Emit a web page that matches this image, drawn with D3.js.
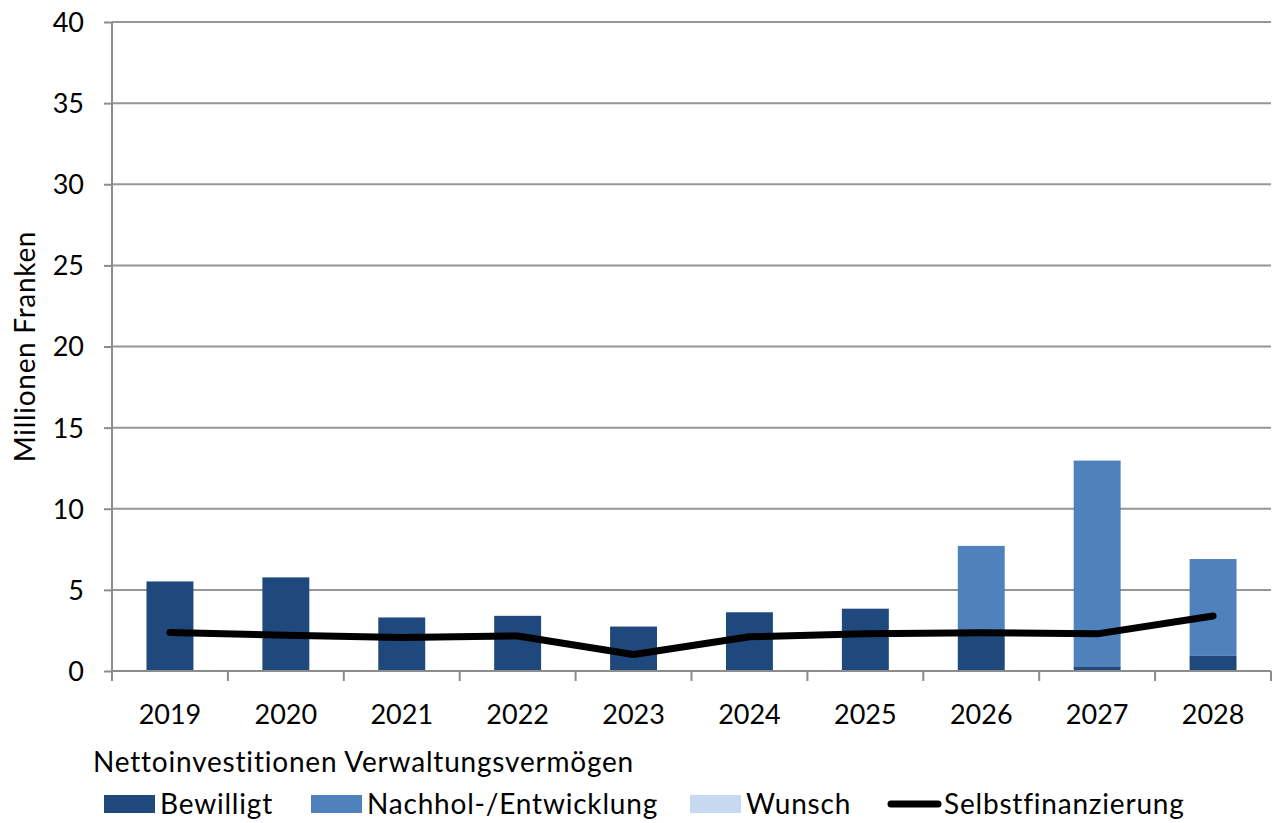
<!DOCTYPE html>
<html>
<head>
<meta charset="utf-8">
<script src="https://cdn.jsdelivr.net/npm/d3@7"></script>
<style>
  body { margin: 0; background: #fff; }
  text { font-family: Lato, "Open Sans", sans-serif; fill: #000; }
</style>
</head>
<body>
<div id="chart"></div>
<script>
// data
const years = ["2019", "2020", "2021", "2022", "2023", "2024", "2025", "2026", "2027", "2028"];
const bewilligt = [5.52, 5.77, 3.30, 3.40, 2.74, 3.62, 3.84, 2.30, 0.29, 0.93];
const nachhol = [0, 0, 0, 0, 0, 0, 0, 5.41, 12.68, 5.97];
const wunsch = [0, 0, 0, 0, 0, 0, 0, 0, 0, 0];
const selbstfinanzierung = [2.37, 2.20, 2.07, 2.16, 1.02, 2.11, 2.29, 2.36, 2.29, 3.39];
const yTicks = [0, 5, 10, 15, 20, 25, 30, 35, 40];

const seriesNames = ["Bewilligt", "Nachhol-/Entwicklung", "Wunsch"];
const colors = ["#1f497d", "#4f81bd", "#c6d9f1"];

const width = 1280, height = 823;
const margin = { top: 22, right: 9, bottom: 152, left: 112 };
const innerW = width - margin.left - margin.right,
  innerH = height - margin.top - margin.bottom;

const svg = d3.select("#chart")
  .append("svg")
  .attr("width", width)
  .attr("height", height);

const g = svg.append("g")
  .attr("transform", `translate(${margin.left}, ${margin.top})`);

const x = d3.scaleBand()
  .domain(years)
  .range([0, innerW]);

const y = d3.scaleLinear()
  .domain([0, 40])
  .range([innerH, 0]);

// gridlines
g.append("g")
  .selectAll("line")
  .data(yTicks.filter(d => d > 0))
  .join("line")
  .attr("x1", 0)
  .attr("x2", innerW)
  .attr("y1", d => y(d))
  .attr("y2", d => y(d))
  .attr("stroke", "#969696")
  .attr("stroke-width", 2);

// stacked bars
const table = years.map((yr, i) => ({
  year: yr,
  "Bewilligt": bewilligt[i],
  "Nachhol-/Entwicklung": nachhol[i],
  "Wunsch": wunsch[i]
}));
const stacked = d3.stack().keys(seriesNames)(table);

const barW = x.bandwidth() * 0.405;
g.selectAll("g.layer")
  .data(stacked)
  .join("g")
  .attr("class", "layer")
  .attr("fill", (d, i) => colors[i])
  .selectAll("rect")
  .data(d => d.filter(p => p[1] - p[0] > 0))
  .join("rect")
  .attr("x", d => x(d.data.year) + (x.bandwidth() - barW) / 2)
  .attr("width", barW)
  .attr("y", d => y(d[1]))
  .attr("height", d => y(d[0]) - y(d[1]));

// y axis
const yAxis = g.append("g")
  .call(d3.axisLeft(y).tickValues(yTicks).tickSize(8).tickPadding(20));
yAxis.selectAll("text").style("font-size", "27px").attr("dy", "0.35em");
yAxis.selectAll("line").attr("stroke", "#8c8c8c").attr("stroke-width", 2);
yAxis.select(".domain").attr("stroke", "#8c8c8c").attr("stroke-width", 2)
  .attr("d", `M0,${innerH}V0`);

// x axis: tick marks at category boundaries
const xAxis = g.append("g")
  .attr("transform", `translate(0, ${innerH})`);
xAxis.append("line")
  .attr("x1", 0).attr("x2", innerW)
  .attr("stroke", "#8c8c8c").attr("stroke-width", 2);
xAxis.selectAll("line.tk")
  .data(years.concat(["end"]))
  .join("line")
  .attr("class", "tk")
  .attr("x1", (d, i) => i * x.step())
  .attr("x2", (d, i) => i * x.step())
  .attr("y1", 0).attr("y2", 10)
  .attr("stroke", "#8c8c8c").attr("stroke-width", 2);
xAxis.selectAll("text")
  .data(years)
  .join("text")
  .attr("x", d => x(d) + x.bandwidth() / 2)
  .attr("y", 53)
  .attr("text-anchor", "middle")
  .style("font-size", "27px")
  .text(d => d);

// Selbstfinanzierung line
const line = d3.line()
  .x((d, i) => x(years[i]) + x.bandwidth() / 2)
  .y(d => y(d));
g.append("path")
  .datum(selbstfinanzierung)
  .attr("d", line)
  .attr("fill", "none")
  .attr("stroke", "#000")
  .attr("stroke-width", 7)
  .attr("stroke-linecap", "round")
  .attr("stroke-linejoin", "round");

// y axis title
svg.append("text")
  .attr("transform", `translate(35, ${margin.top + innerH / 2}) rotate(-90)`)
  .attr("text-anchor", "middle")
  .style("font-size", "28px")
  .style("letter-spacing", "0.7px")
  .text("Millionen Franken");

// legend
svg.append("text")
  .attr("x", 93)
  .attr("y", 772)
  .style("font-size", "28px")
  .style("letter-spacing", "0.8px")
  .text("Nettoinvestitionen Verwaltungsvermögen");

const legendItems = [
  { name: "Bewilligt", type: "bar", color: colors[0], x: 104 },
  { name: "Nachhol-/Entwicklung", type: "bar", color: colors[1], x: 311 },
  { name: "Wunsch", type: "bar", color: colors[2], x: 690 },
  { name: "Selbstfinanzierung", type: "line", color: "#000", x: 888 }
];
const leg = svg.append("g").attr("transform", "translate(0, 804)");
legendItems.forEach(it => {
  if (it.type === "bar") {
    leg.append("rect")
      .attr("x", it.x).attr("y", -9)
      .attr("width", 51).attr("height", 18)
      .attr("fill", it.color);
  } else {
    leg.append("line")
      .attr("x1", it.x + 3).attr("x2", it.x + 50)
      .attr("stroke", it.color).attr("stroke-width", 7)
      .attr("stroke-linecap", "round");
  }
  leg.append("text")
    .attr("x", it.x + 56)
    .attr("y", 0)
    .attr("dy", "0.35em")
    .style("font-size", "28px")
    .style("letter-spacing", "0.8px")
    .text(it.name);
});
</script>
</body>
</html>
